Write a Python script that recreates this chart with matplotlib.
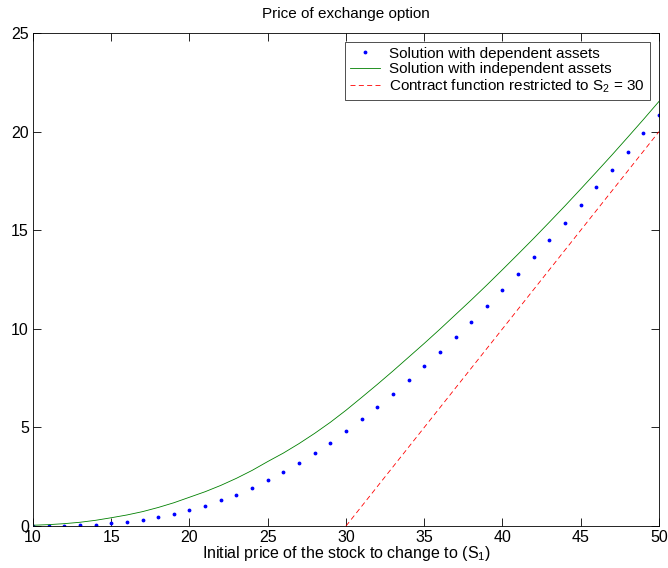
"""Price of exchange option: dependent vs independent assets."""

import matplotlib

matplotlib.use("Agg")
import matplotlib.pyplot as plt  # noqa: E402
import numpy as np  # noqa: E402

plt.rcParams["font.family"] = ["Liberation Sans", "DejaVu Sans"]
plt.rcParams["mathtext.default"] = "regular"

# initial price of S1 (grid of the solution)
s1 = np.arange(10, 51)

# price with dependent assets (blue dots)
dependent = [
    0.0, 0.0, 0.02, 0.05, 0.07, 0.14, 0.2, 0.32, 0.46, 0.63,
    0.8, 1.03, 1.3, 1.58, 1.95, 2.34, 2.75, 3.22, 3.71, 4.22,
    4.8, 5.42, 6.05, 6.71, 7.39, 8.09, 8.8, 9.56, 10.34, 11.15,
    11.99, 12.8, 13.62, 14.51, 15.36, 16.26, 17.18, 18.07, 18.97, 19.92,
    20.84,
]

# price with independent assets (green line)
independent = [
    0.04, 0.07, 0.12, 0.19, 0.29, 0.42, 0.56, 0.73, 0.94, 1.18,
    1.46, 1.74, 2.06, 2.42, 2.82, 3.27, 3.7, 4.18, 4.7, 5.26,
    5.87, 6.52, 7.18, 7.86, 8.56, 9.26, 9.98, 10.72, 11.46, 12.22,
    13.0, 13.79, 14.59, 15.41, 16.24, 17.09, 17.95, 18.82, 19.71, 20.61,
    21.53,
]

# contract function max(S1 - S2, 0) with S2 = 30 (red dashed)
contract_s1 = [30, 50]
contract_val = [0, 20]

fig = plt.figure(figsize=(6.68, 5.68), dpi=100)
ax = fig.add_axes([0.0494, 0.0739, 0.9371, 0.868])

ax.plot(s1, dependent, linestyle="none", marker=".", markersize=3.5,
        color="#0000ff", label="Solution with dependent assets")
ax.plot(s1, independent, color="#008000", linewidth=0.6,
        label="Solution with independent assets")
ax.plot(contract_s1, contract_val, color="#ff0000", linestyle=(0, (6, 4)),
        linewidth=0.6, label="Contract function restricted to S$_2$ = 30")

ax.set_xlim(10, 50)
ax.set_ylim(0, 25)
ax.set_xticks(np.arange(10, 51, 5))
ax.set_yticks(np.arange(0, 26, 5))
ax.tick_params(direction="in", length=6, width=0.6, labelsize=11.5,
               top=True, right=True, pad=3)
for spine in ax.spines.values():
    spine.set_linewidth(0.6)

ax.set_title("Price of exchange option", fontsize=11, pad=11)
ax.set_xlabel("Initial price of the stock to change to (S$_1$)",
              fontsize=11.5, labelpad=-1)

leg = ax.legend(loc="upper right", fontsize=11, frameon=True, fancybox=False,
                edgecolor="black", handlelength=2.0, borderaxespad=0.6,
                labelspacing=0.1, handletextpad=0.6, borderpad=0.3)
leg.get_frame().set_linewidth(0.6)

fig.savefig("out.png", dpi=100)
plt.close(fig)
